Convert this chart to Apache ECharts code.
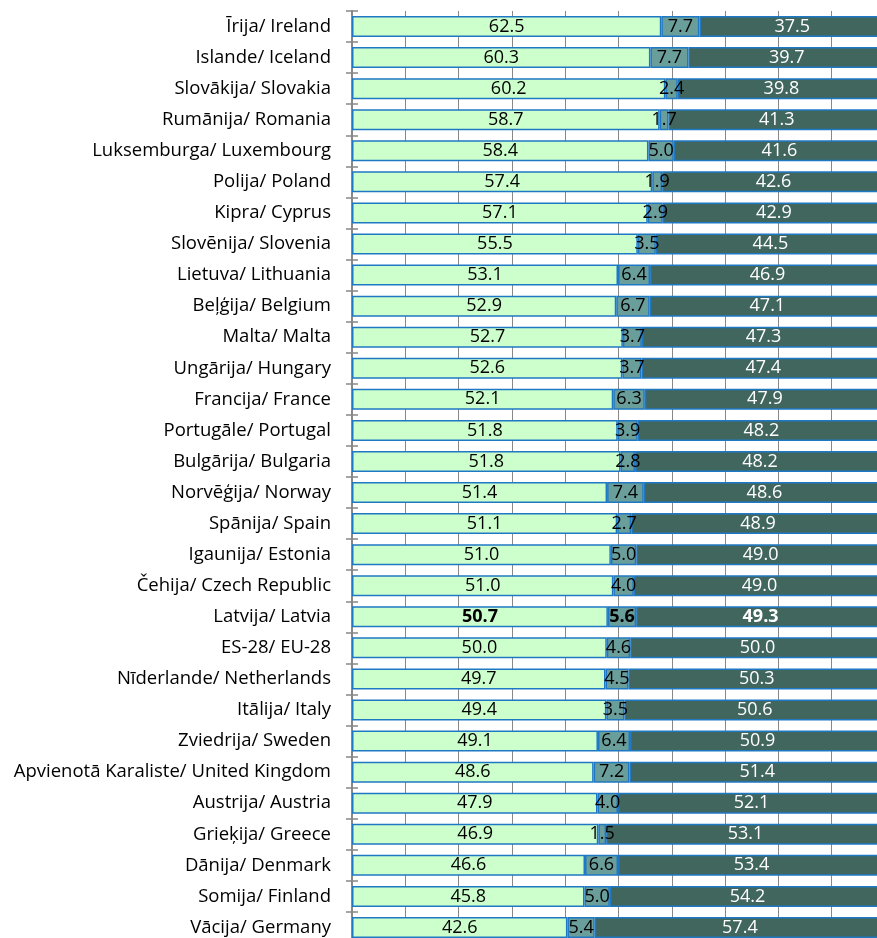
<!DOCTYPE html>
<html>
<head>
<meta charset="utf-8">
<script src="https://cdn.jsdelivr.net/npm/echarts@6/dist/echarts.min.js"></script>
<style>
  html, body { margin: 0; padding: 0; background: #ffffff; overflow: hidden; }
  /* the plot runs slightly past the window's right and bottom edges */
  #chart { width: 885px; height: 943px; }
</style>
</head>
<body>
<div id="chart"></div>
<script>
// Countries, top to bottom
var categories = [
  'Īrija/ Ireland', 'Islande/ Iceland', 'Slovākija/ Slovakia', 'Rumānija/ Romania',
  'Luksemburga/ Luxembourg', 'Polija/ Poland', 'Kipra/ Cyprus', 'Slovēnija/ Slovenia',
  'Lietuva/ Lithuania', 'Beļģija/ Belgium', 'Malta/ Malta', 'Ungārija/ Hungary',
  'Francija/ France', 'Portugāle/ Portugal', 'Bulgārija/ Bulgaria', 'Norvēģija/ Norway',
  'Spānija/ Spain', 'Igaunija/ Estonia', 'Čehija/ Czech Republic', 'Latvija/ Latvia',
  'ES-28/ EU-28', 'Nīderlande/ Netherlands', 'Itālija/ Italy', 'Zviedrija/ Sweden',
  'Apvienotā Karaliste/ United Kingdom', 'Austrija/ Austria', 'Grieķija/ Greece',
  'Dānija/ Denmark', 'Somija/ Finland', 'Vācija/ Germany'
];

// Left segment values
var leftValues = [
  62.5, 60.3, 60.2, 58.7, 58.4, 57.4, 57.1, 55.5, 53.1, 52.9,
  52.7, 52.6, 52.1, 51.8, 51.8, 51.4, 51.1, 51.0, 51.0, 50.7,
  50.0, 49.7, 49.4, 49.1, 48.6, 47.9, 46.9, 46.6, 45.8, 42.6
];

// Middle segment values
var middleValues = [
  7.7, 7.7, 2.4, 1.7, 5.0, 1.9, 2.9, 3.5, 6.4, 6.7,
  3.7, 3.7, 6.3, 3.9, 2.8, 7.4, 2.7, 5.0, 4.0, 5.6,
  4.6, 4.5, 3.5, 6.4, 7.2, 4.0, 1.5, 6.6, 5.0, 5.4
];

// Right segment values
var rightValues = [
  37.5, 39.7, 39.8, 41.3, 41.6, 42.6, 42.9, 44.5, 46.9, 47.1,
  47.3, 47.4, 47.9, 48.2, 48.2, 48.6, 48.9, 49.0, 49.0, 49.3,
  50.0, 50.3, 50.6, 50.9, 51.4, 52.1, 53.1, 53.4, 54.2, 57.4
];

var highlightCategory = 'Latvija/ Latvia';

var FONT = '"Open Sans", sans-serif';
var BORDER = '#1f78c4';
var AXIS_GREY = '#888888';

// 100% stacked: each segment is drawn as its share of the row total,
// while the label keeps the original value.
function shares(values) {
  return values.map(function (v, i) {
    var total = leftValues[i] + middleValues[i] + rightValues[i];
    var item = { value: v / total * 100, raw: v };
    if (categories[i] === highlightCategory) {
      item.label = { fontWeight: 'bold' };
    }
    return item;
  });
}

function makeSeries(name, values, fill, textColor) {
  return {
    name: name,
    type: 'bar',
    stack: 'row',
    yAxisIndex: 0,
    barWidth: 21,
    data: shares(values),
    itemStyle: { color: fill, borderColor: BORDER, borderWidth: 1.5 },
    label: {
      show: true,
      position: 'inside',
      color: textColor,
      fontFamily: FONT,
      fontSize: 18,
      formatter: function (p) { return p.data.raw.toFixed(1); }
    },
    emphasis: { disabled: true },
    animation: false
  };
}

var chart = echarts.init(document.getElementById('chart'), null, { renderer: 'canvas' });

chart.setOption({
  backgroundColor: '#ffffff',
  animation: false,
  grid: { left: 352, right: 0, top: 11, bottom: 0, containLabel: false },
  xAxis: {
    type: 'value',
    min: 0,
    max: 100,
    interval: 10,
    axisLine: { show: false },
    axisTick: { show: false },
    axisLabel: { show: false },
    splitLine: { show: true, lineStyle: { color: AXIS_GREY, width: 1 } }
  },
  yAxis: [
    {
      type: 'category',
      data: categories,
      inverse: true,
      position: 'left',
      axisLine: { show: true, lineStyle: { color: AXIS_GREY, width: 2 } },
      axisTick: { show: true, length: 6, lineStyle: { color: AXIS_GREY, width: 1.5 } },
      axisLabel: { color: '#000000', fontFamily: FONT, fontSize: 18.5, margin: 21 }
    },
    {
      // inner half of the crossing category ticks
      type: 'category',
      data: categories,
      inverse: true,
      position: 'left',
      axisLine: { show: false },
      axisTick: { show: true, inside: true, length: 6, lineStyle: { color: AXIS_GREY, width: 1.5 } },
      axisLabel: { show: false }
    }
  ],
  series: [
    makeSeries('left', leftValues, '#ccffcc', '#000000'),
    makeSeries('middle', middleValues, '#6a9e9a', '#000000'),
    makeSeries('right', rightValues, '#40665e', '#ffffff')
  ]
});
</script>
</body>
</html>
